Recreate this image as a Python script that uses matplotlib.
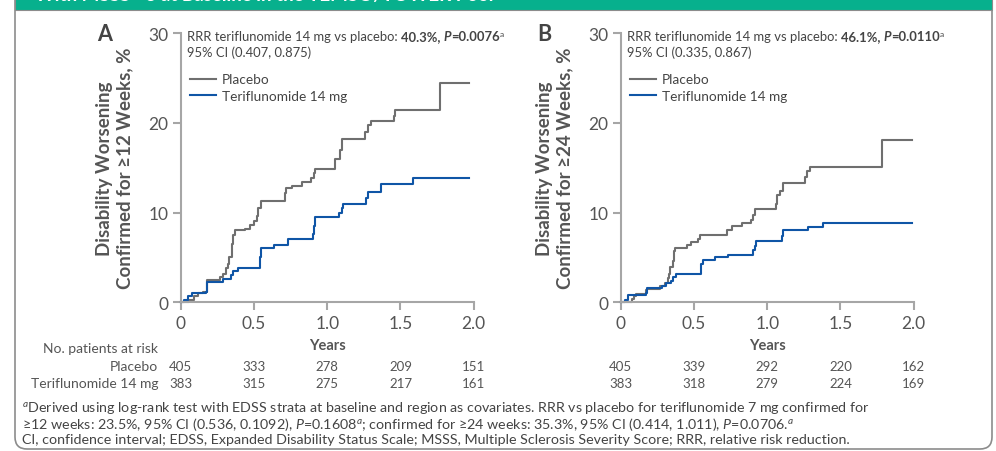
import numpy as np
import matplotlib
matplotlib.use("Agg")
import matplotlib.pyplot as plt
import matplotlib.transforms as mtransforms
from matplotlib.patches import FancyBboxPatch, Rectangle

# Kaplan-Meier style curves (years, %)
a_pbo_t = [0, 0.06, 0.09, 0.12, 0.15, 0.18, 0.27, 0.29, 0.31, 0.32, 0.33, 0.35, 0.36, 0.37, 0.44,
           0.47, 0.50, 0.52, 0.53, 0.545, 0.71, 0.72, 0.76, 0.825, 0.89, 0.91, 0.92, 1.05, 1.085, 1.10,
           1.26, 1.28, 1.30, 1.455, 1.465, 1.77, 1.97]
a_pbo_y = [0, 0.3, 0.7, 1.0, 1.2, 2.5, 2.8, 3.2, 3.8, 4.3, 5.0, 6.5, 7.5, 8.0, 8.2,
           8.6, 9.1, 9.6, 10.5, 11.3, 12.2, 12.7, 13.0, 13.4, 13.8, 14.4, 14.9, 16.0, 17.0, 18.2,
           19.0, 19.7, 20.2, 20.8, 21.4, 24.4, 24.4]
a_teri_t = [0, 0.02, 0.05, 0.08, 0.17, 0.18, 0.29, 0.34, 0.355, 0.39, 0.54, 0.548, 0.64, 0.73, 0.90,
            0.91, 0.92, 1.08, 1.10, 1.11, 1.265, 1.28, 1.37, 1.585, 1.97]
a_teri_y = [0, 0.3, 0.7, 1.0, 1.2, 2.3, 2.6, 3.0, 3.5, 3.8, 5.0, 6.0, 6.4, 7.0, 7.6,
            8.5, 9.5, 10.0, 10.5, 11.0, 11.6, 12.3, 13.2, 13.8, 13.8]

b_pbo_t = [0, 0.075, 0.09, 0.105, 0.17, 0.18, 0.27, 0.30, 0.32, 0.33, 0.335, 0.36, 0.365, 0.37, 0.45,
           0.48, 0.53, 0.54, 0.725, 0.76, 0.83, 0.89, 0.90, 0.92, 1.06, 1.07, 1.09, 1.11, 1.26, 1.275,
           1.29, 1.785, 1.99]
b_pbo_y = [0, 0.4, 0.7, 0.9, 1.4, 1.5, 1.8, 2.2, 2.7, 3.2, 3.9, 4.6, 5.7, 6.1, 6.4,
           6.7, 7.1, 7.5, 8.1, 8.5, 8.8, 9.2, 9.7, 10.4, 11.0, 11.9, 12.4, 13.3, 14.0, 14.6,
           15.1, 18.1, 18.1]
b_teri_t = [0, 0.03, 0.05, 0.17, 0.18, 0.28, 0.31, 0.34, 0.36, 0.38, 0.545, 0.55, 0.56, 0.645, 0.735,
            0.905, 0.915, 0.925, 1.10, 1.11, 1.28, 1.38, 1.99]
b_teri_y = [0, 0.3, 0.8, 1.0, 1.6, 1.8, 2.1, 2.4, 2.8, 3.1, 4.0, 4.3, 4.7, 5.0, 5.3,
            5.8, 6.3, 6.8, 7.4, 8.0, 8.4, 8.8, 8.8]

risk_times = [0, 0.5, 1.0, 1.5, 2.0]
a_risk_pbo = [405, 333, 278, 209, 151]
a_risk_teri = [383, 315, 275, 217, 161]
b_risk_pbo = [405, 339, 292, 220, 162]
b_risk_teri = [383, 318, 279, 224, 169]

a_rrr = ["40.3%, ", "=0.0076", "95% CI (0.407, 0.875)"]
b_rrr = ["46.1%, ", "=0.0110", "95% CI (0.335, 0.867)"]

plt.rcParams['font.family'] = ['Lato', 'DejaVu Sans']
plt.rcParams['mathtext.fontset'] = 'custom'
plt.rcParams['mathtext.rm'] = 'Lato'
plt.rcParams['mathtext.it'] = 'Lato:italic'
plt.rcParams['mathtext.bf'] = 'Lato:bold'

GRAY_TXT = '#555555'
PBO = '#6f6f6f'
TERI = '#0f55a6'
SPINE = '#a6a6a6'

W, H = 996, 452
fig = plt.figure(figsize=(W / 100, H / 100), dpi=100)

# frame and green header band (behind the axes)
frame = FancyBboxPatch((15, 2), 977, 480, boxstyle="round,pad=0,rounding_size=12",
                       transform=mtransforms.IdentityTransform(), facecolor='white',
                       edgecolor='#8c8c8c', lw=1.2, zorder=-5)
fig.add_artist(frame)
band = Rectangle((15, H - 11), 977, 20, transform=mtransforms.IdentityTransform(),
                 facecolor='#07b08d', edgecolor='#8c8c8c', lw=0.8, zorder=-4)
fig.add_artist(band)
fig.text(35 / W, 1 - 1.5 / H, "With MSSS <3 at Baseline in the TEMSO/TOWER Pool", color='white',
         fontsize=13.5, fontweight='bold', va='baseline', ha='left', zorder=-3)


def px(x, y):
    return x / W, 1 - y / H


def rich_line(ax, x, y, parts, size=9.4):
    # parts: list of (text, weight, style, raise)
    fig.canvas.draw()
    r = fig.canvas.get_renderer()
    dx = 0
    for s, w, st, up in parts:
        fs = size * 0.65 if up else size
        tr = mtransforms.offset_copy(ax.transAxes, fig=fig, x=dx, y=up, units='dots')
        t = ax.text(x, y, s, transform=tr, fontsize=fs, fontweight=w, fontstyle=st,
                    color='#444444', va='baseline', ha='left')
        dx += t.get_window_extent(r).width


def panel(left, letter, ylab, pbo_t, pbo_y, teri_t, teri_y, rrr, risk_pbo, risk_teri, row_labels):
    ax = fig.add_axes([left / W, 1 - 303.3 / H, 293 / W, 269.3 / H])
    ax.plot(pbo_t, pbo_y, drawstyle='steps-post', color=PBO, lw=1.5, label='Placebo', clip_on=False)
    ax.plot(teri_t, teri_y, drawstyle='steps-post', color=TERI, lw=1.5, label='Teriflunomide 14 mg',
            clip_on=False)
    ax.set_xlim(0, 2.0)
    ax.set_ylim(0, 30)
    ax.set_xticks([0, 0.5, 1.0, 1.5, 2.0])
    ax.set_xticklabels(['0', '0.5', '1.0', '1.5', '2.0'])
    ax.set_yticks([0, 10, 20, 30])
    for sp in ['top', 'right']:
        ax.spines[sp].set_visible(False)
    for sp in ['left', 'bottom']:
        ax.spines[sp].set_color(SPINE)
        ax.spines[sp].set_linewidth(1.5)
    ax.tick_params(colors=SPINE, labelcolor=GRAY_TXT, labelsize=12.5, length=6, width=1.5, pad=3)
    ax.patch.set_alpha(0)

    ax.text(-0.225, 0.5, ylab, rotation=90, transform=ax.transAxes, ha='center', va='center',
            fontsize=13.5, fontweight='bold', color=GRAY_TXT, linespacing=1.2, multialignment='center')
    ax.text(-0.26, 1.0, letter, transform=ax.transAxes, ha='center', va='center', fontsize=15.5,
            fontweight='bold', color='#444444')

    rich_line(ax, 0.022, 0.975, [("RRR teriflunomide 14 mg vs placebo: ", 'normal', 'normal', 0),
                                 (rrr[0], 'bold', 'normal', 0), ("P", 'bold', 'italic', 0),
                                 (rrr[1], 'bold', 'normal', 0), ("a", 'normal', 'normal', 4)])
    ax.text(0.022, 0.915, rrr[2], transform=ax.transAxes, fontsize=9.4, color='#444444',
            va='baseline', ha='left')
    ax.legend(loc='upper left', bbox_to_anchor=(0.0, 0.885), frameon=False, fontsize=9.8,
              labelcolor='#444444', handlelength=1.9, handletextpad=0.4, borderaxespad=0.3,
              labelspacing=0.3)

    ax.text(0.5, px(0, 346)[1], "Years", transform=mtransforms.blended_transform_factory(ax.transAxes, fig.transFigure),
            ha='center', va='center', fontsize=10.5, fontweight='bold', color=GRAY_TXT)
    tr = mtransforms.blended_transform_factory(ax.transData, fig.transFigure)
    for xt, n1, n2 in zip(risk_times, risk_pbo, risk_teri):
        ax.text(xt, px(0, 367)[1], str(n1), transform=tr, ha='center', va='center', fontsize=9.5,
                color=GRAY_TXT)
        ax.text(xt, px(0, 384)[1], str(n2), transform=tr, ha='center', va='center', fontsize=9.5,
                color=GRAY_TXT)
    if row_labels:
        fig.text(158 / W, px(0, 349)[1], "No. patients at risk", ha='right', va='center',
                 fontsize=10, color=GRAY_TXT)
        fig.text(158 / W, px(0, 367)[1], "Placebo", ha='right', va='center', fontsize=10, color=GRAY_TXT)
        fig.text(158 / W, px(0, 384)[1], "Teriflunomide 14 mg", ha='right', va='center', fontsize=10,
                 color=GRAY_TXT)
    return ax


panel(180.7, "A", "Disability Worsening\nConfirmed for \u226512 Weeks, %", a_pbo_t, a_pbo_y,
      a_teri_t, a_teri_y, a_rrr, a_risk_pbo, a_risk_teri, True)
panel(620.7, "B", "Disability Worsening\nConfirmed for \u226524 Weeks, %", b_pbo_t, b_pbo_y,
      b_teri_t, b_teri_y, b_rrr, b_risk_pbo, b_risk_teri, False)

foot = [
    r"$^{a}$Derived using log-rank test with EDSS strata at baseline and region as covariates. RRR vs placebo for teriflunomide 7 mg confirmed for",
    "\u226512 weeks: 23.5%, 95% CI (0.536, 0.1092), $\\it{P}$=0.1608$^{a}$; confirmed for \u226524 weeks: 35.3%, 95% CI (0.414, 1.011), $\\it{P}$=0.0706.$^{a}$",
    "CI, confidence interval; EDSS, Expanded Disability Status Scale; MSSS, Multiple Sclerosis Severity Score; RRR, relative risk reduction.",
]
for i, line in enumerate(foot):
    fig.text(22 / W, px(0, 408.5 + 15.7 * i)[1], line, ha='left', va='center', fontsize=10.25,
             color='#444444')

fig.savefig("out.png", dpi=100)
